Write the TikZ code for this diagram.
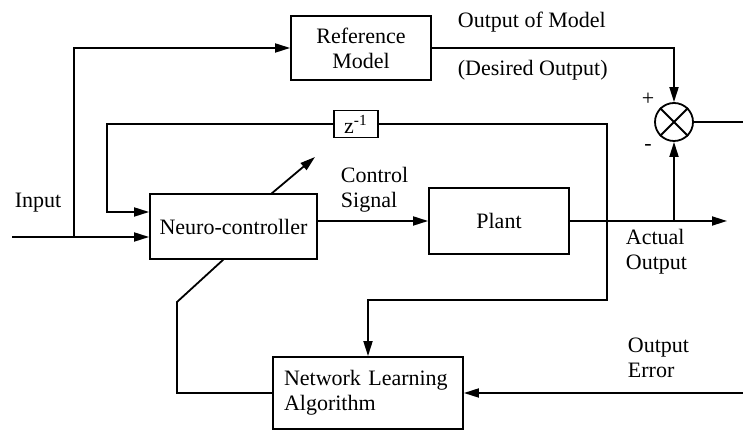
\documentclass[tikz,border=0pt]{standalone}
\usepackage{fontspec}
\setmainfont{Liberation Serif}
\usetikzlibrary{arrows.meta}
\begin{document}
\begin{tikzpicture}[x=0.5pt,y=-0.5pt,
  line width=0.9pt,
  >={Triangle[length=7.5pt,width=4.5pt]},
  every node/.style={font=\fontsize{11}{12.5}\selectfont, inner sep=0pt},
  blockbox/.style={draw, rectangle, align=center},
  lbl/.style={anchor=west, align=left},
  sumnode/.style={draw, circle, minimum size=19pt}]
  \useasboundingbox (0,0) rectangle (743,431);

  % blocks
  \node[blockbox, minimum width=70pt, minimum height=32pt] (rm) at (361,48) {Reference\\Model};
  \node[blockbox, minimum width=83.5pt, minimum height=32.5pt] (nc) at (233.5,226.5) {Neuro-controller};
  \node[blockbox, minimum width=70pt, minimum height=33pt] (pl) at (499,221) {Plant};
  \node[blockbox, minimum width=22pt, minimum height=13.5pt] (zd) at (356,124) {z\textsuperscript{-1}};
  \node[blockbox, minimum width=95pt, minimum height=36pt, align=left, text width=84pt] (nla) at (368,393) {Network Learning\\Algorithm};
  \node[sumnode] (sum) at (674,122) {};
  \draw (sum.north east) -- (sum.south west) (sum.north west) -- (sum.south east);

  % free ends and bends
  \coordinate (in0) at (12,237);
  \coordinate (j1) at (74,237);
  \coordinate (out) at (727,221);
  \coordinate (j2) at (674,221);
  \coordinate (j3) at (607,221);
  \coordinate (fb) at (107,212);
  \coordinate (k) at (607,300);
  \coordinate (w0) at (271,194);
  \coordinate (w1) at (315,157);
  \coordinate (d0) at (224,259);
  \coordinate (d1) at (177,302);
  \coordinate (d2) at (177,393);
  \coordinate (err) at (743,393);
  \coordinate (se) at (743,122);

  % signal paths
  \draw[->] (in0) -- (nc.west |- in0);
  \draw[->] (j1) |- (rm.west);
  \draw[->] (rm.east) -| (sum.north);
  \draw[->] (nc.east |- pl.west) -- (pl.west);
  \draw[->] (pl.east) -- (out);
  \draw[->] (j2) -- (sum.south);
  \draw (sum.east) -- (se);
  \draw (j3) |- (zd.east);
  \draw[->] (zd.west) -| (fb) -- (nc.west |- fb);
  \draw[->] (w0) -- (w1);
  \draw (d0) -- (d1) -- (d2) -- (nla.west);
  \draw[->] (j3) -- (k) -| (nla.north);
  \draw[->] (err) -- (nla.east);

  % labels
  \node[lbl] (tin) at (14,203) {Input};
  \node[lbl] (tom) at (457,22) {Output of Model};
  \node[lbl] (tdo) at (457,70) {(Desired Output)};
  \node[lbl] (tcs) at (340,190) {Control\\Signal};
  \node[lbl] (tao) at (625,252) {Actual\\Output};
  \node[lbl] (toe) at (627,358) {Output\\Error};
  \node (tp) at (648,99) {+};
  \node (tm) at (648,148) {-};
\end{tikzpicture}
\end{document}
